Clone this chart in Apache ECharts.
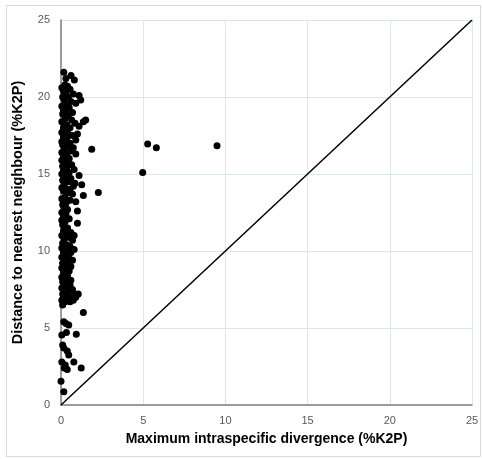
<!DOCTYPE html>
<html>
<head>
<meta charset="utf-8">
<script src="https://cdn.jsdelivr.net/npm/echarts@6/dist/echarts.min.js"></script>
<style>html,body{margin:0;padding:0;background:#fff;}#c{width:482px;height:459px;}</style>
</head>
<body>
<div id="c"></div>
<script>
// Maximum intraspecific divergence (%K2P) vs distance to nearest neighbour (%K2P)
var xTitle = 'Maximum intraspecific divergence (%K2P)';
var yTitle = 'Distance to nearest neighbour (%K2P)';
var tickValues = [0, 5, 10, 15, 20, 25];
var diagonal = [[0, 0], [25, 25]];

var maxIntra = [
0.17,0.61,0.81,0.3,
0.24,0.05,0.4,0.15,0.55,0.3,0.75,1.1,0.1,0.45,
0.2,0.6,0.9,0.35,0.05,0.5,0.15,0.7,0.3,1.2,
0.1,0.45,0.25,0.65,0.05,0.85,1.36,0.35,1.1,0.15,0.55,1.5,
0.25,0.05,0.45,0.7,0.15,0.35,0.9,0.05,0.55,0.25,1.0,
0.1,0.4,0.75,0.2,0.6,0.05,0.35,0.9,0.15,0.5,1.87,5.27,5.8,9.49,0.3,
0.05,0.4,0.2,0.65,0.1,0.35,0.8,0.15,0.5,0.25,4.97,1.1,0.05,
0.3,0.6,0.1,0.45,0.85,1.26,0.2,0.05,0.55,0.35,0.75,
0.15,0.45,2.27,1.36,0.7,0.25,0.05,0.55,0.3,0.9,0.1,
0.2,0.4,0.05,0.3,0.15,0.5,0.05,1.0,
0.25,1.0,0.1,0.4,0.15,0.6,0.3,0.05,0.8,
0.45,0.2,0.7,0.1,0.35,0.55,0.05,0.25,0.8,0.45,0.6,
0.15,0.35,0.05,0.5,0.25,0.7,0.1,0.4,0.2,0.6,
0.05,0.3,0.5,0.15,0.4,0.05,0.25,0.6,0.1,0.45,
0.2,0.55,0.35,0.05,0.7,0.25,0.45,0.1,0.85,1.05,0.3,0.6,0.15,0.4,0.05,0.25,0.75,0.55,0.9,
0.1,1.36,0.17,0.47,0.3,
0.93,0.05,0.33,0.17,0.38,0.47,0.78,1.23,0.05,0.26,0.38,0.2,0.0,0.17,0.1
];
var nearestNb = [
21.6,21.4,21.1,21.2,
20.8,20.6,20.7,20.4,20.5,20.3,20.2,20.1,20.0,20.0,
19.8,19.7,19.6,19.5,19.4,19.3,19.1,19.0,19.0,19.8,
18.9,18.8,18.6,18.5,18.4,18.3,18.4,18.2,18.1,18.0,18.0,18.5,
17.9,17.7,17.6,17.5,17.4,17.3,17.2,17.1,17.0,17.0,17.6,
16.9,16.8,16.7,16.6,16.5,16.4,16.3,16.3,16.1,16.0,16.6,16.95,16.7,16.84,16.0,
15.9,15.8,15.7,15.6,15.5,15.4,15.3,15.2,15.1,15.0,15.1,14.9,15.0,
14.8,14.7,14.6,14.5,14.4,14.3,14.3,14.1,14.0,14.0,14.2,
13.9,13.8,13.8,13.6,13.7,13.5,13.4,13.3,13.1,13.2,13.0,
12.8,12.7,12.5,12.4,12.2,12.1,12.0,12.6,
11.9,11.8,11.7,11.5,11.3,11.2,11.1,11.0,11.0,
10.9,10.8,10.7,10.5,10.4,10.3,10.2,10.1,10.1,10.0,9.9,
9.9,9.7,9.6,9.5,9.3,9.4,9.2,9.1,9.0,9.0,
8.9,8.8,8.7,8.6,8.4,8.3,8.2,8.1,8.0,8.0,
7.9,7.8,7.7,7.6,7.5,7.4,7.3,7.2,7.2,7.2,7.1,7.0,7.0,6.9,6.8,6.7,6.8,6.7,7.0,
6.5,6.0,5.4,5.2,5.3,
4.6,4.55,4.7,3.7,3.5,3.25,2.8,2.4,2.8,2.6,2.3,2.4,1.55,0.86,3.9
];

var points = maxIntra.map(function (x, i) { return [x, nearestNb[i]]; });

var chart = echarts.init(document.getElementById('c'), null, {renderer: 'canvas'});
var labelStyle = {color: '#595959', fontSize: 11, fontFamily: 'Liberation Sans, Arial, sans-serif'};
var xNameStyle = {color: '#000', fontSize: 14, fontWeight: 'bold', fontFamily: 'Liberation Sans, Arial, sans-serif'};
var yNameStyle = {color: '#000', fontSize: 14.5, fontWeight: 'bold', fontFamily: 'Liberation Sans, Arial, sans-serif'};
chart.setOption({
  animation: false,
  backgroundColor: '#fff',
  graphic: [{
    type: 'rect', shape: {x: 6.5, y: 5.5, width: 474, height: 451},
    style: {fill: 'none', stroke: '#d9d9d9', lineWidth: 1}, silent: true, z: -1
  }],
  grid: {left: 61, right: 10, top: 20, bottom: 54, containLabel: false},
  xAxis: {
    type: 'value', min: 0, max: 25, interval: 5,
    name: xTitle, nameLocation: 'middle', nameGap: 27, nameTextStyle: xNameStyle,
    axisLine: {show: true, lineStyle: {color: '#7f7f7f', width: 1.5}},
    axisTick: {show: false},
    axisLabel: Object.assign({margin: 10}, labelStyle),
    splitLine: {show: true, lineStyle: {color: '#dbe8ea', width: 1}}
  },
  yAxis: {
    type: 'value', min: 0, max: 25, interval: 5,
    name: yTitle, nameLocation: 'middle', nameGap: 36, nameTextStyle: yNameStyle,
    axisLine: {show: true, lineStyle: {color: '#7f7f7f', width: 1.5}},
    axisTick: {show: false},
    axisLabel: Object.assign({margin: 11}, labelStyle),
    splitLine: {show: true, lineStyle: {color: '#dbe8ea', width: 1}}
  },
  series: [
    {
      type: 'line', data: diagonal, symbol: 'none', z: 3,
      lineStyle: {color: '#000', width: 1.5}, silent: true
    },
    {
      type: 'scatter', data: points, symbol: 'circle', symbolSize: 7, z: 4,
      itemStyle: {color: '#000', opacity: 1}
    }
  ]
});
</script>
</body>
</html>
